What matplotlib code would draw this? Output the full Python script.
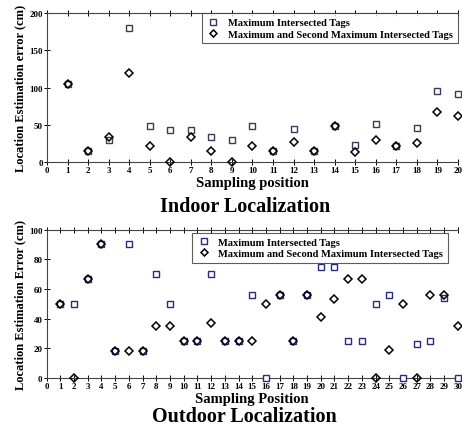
import matplotlib
matplotlib.use("Agg")
import matplotlib.pyplot as plt

plt.rcParams['font.family'] = 'Liberation Serif'
plt.rcParams['font.weight'] = 'bold'

# Indoor data (cm)
indoor_pos = list(range(1, 21))
indoor_max = [105, 15, 30, 180, 48, 43, 43, 34, 30, 48, 15, 45, 15, 48, 23, 51, 22, 46, 96, 91]
indoor_max2 = [105, 15, 34, 120, 22, 0, 34, 15, 0, 22, 15, 27, 15, 48, 13, 30, 22, 25, 67, 62]

# Outdoor data (cm)
outdoor_pos = list(range(1, 31))
outdoor_max = [50, 50, 67, 90, 18, 90, 18, 70, 50, 25, 25, 70, 25, 25, 56,
               0, 56, 25, 56, 75, 75, 25, 25, 50, 56, 0, 23, 25, 54, 0]
outdoor_max2 = [50, 0, 67, 90, 18, 18, 18, 35, 35, 25, 25, 37, 25, 25, 25,
                50, 56, 25, 56, 41, 53, 67, 67, 0, 19, 50, 0, 56, 56, 35]

label_max = "Maximum Intersected Tags"
label_max2 = "Maximum and Second Maximum Intersected Tags"

fig = plt.figure(figsize=(4.62, 4.27), dpi=100)


def draw(ax, pos, sq, dia, xmax, ymax, ystep, ylabel, xlabel, sq_color, leg_anchor):
    ax.plot(pos, sq, linestyle='none', marker='s', markersize=5,
            markerfacecolor='white', markeredgecolor=sq_color, markeredgewidth=1.0,
            label=label_max, clip_on=False, zorder=3)
    ax.plot(pos, dia, linestyle='none', marker='D', markersize=4.2,
            markerfacecolor='none', markeredgecolor='black', markeredgewidth=1.1,
            label=label_max2, clip_on=False, zorder=4)
    ax.set_xlim(0, xmax)
    ax.set_ylim(0, ymax)
    ax.set_xticks(range(0, xmax + 1))
    ax.set_yticks(range(0, ymax + 1, ystep))
    ax.tick_params(axis='both', labelsize=6.5, direction='inout', length=4, width=0.7, pad=1)
    ax.tick_params(axis='x', top=True)
    ax.spines['right'].set_visible(False)
    for s in ['left', 'bottom', 'top']:
        ax.spines[s].set_linewidth(0.8)
        ax.spines[s].set_color('#444444')
    ax.set_ylabel(ylabel, fontsize=9, fontweight='bold', labelpad=2)
    ax.set_xlabel(xlabel, fontsize=10.5, fontweight='bold', labelpad=1)
    leg = ax.legend(loc='upper right', bbox_to_anchor=leg_anchor, fontsize=7.6,
                    frameon=True, fancybox=False, markerscale=0.85,
                    borderaxespad=0.0, handletextpad=0.8, borderpad=0.45,
                    labelspacing=0.2, handlelength=1.2)
    leg.get_frame().set_edgecolor('#333333')
    leg.get_frame().set_linewidth(0.8)


ax1 = fig.add_axes([0.102, 0.618, 0.889, 0.349])
draw(ax1, indoor_pos, indoor_max, indoor_max2, 20, 200, 50,
     "Location Estimation error (cm)", "Sampling position", '#3a3a5a', (1.0, 1.0))

ax2 = fig.add_axes([0.101, 0.1124, 0.890, 0.3476])
draw(ax2, outdoor_pos, outdoor_max, outdoor_max2, 30, 100, 20,
     "Location Estimation Error (cm)", "Sampling Position", '#2a2a80', (0.976, 0.98))

fig.text(0.53, 0.515, "Indoor Localization", ha='center', va='center',
         fontsize=14.5, fontweight='bold')
fig.text(0.53, 0.023, "Outdoor Localization", ha='center', va='center',
         fontsize=14.5, fontweight='bold')

plt.savefig("out.png", dpi=100)
